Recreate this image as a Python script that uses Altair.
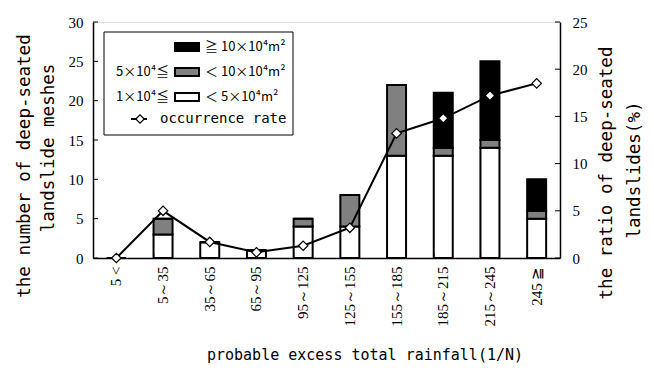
import altair as alt
import pandas as pd

categories = ["5 <", "5～35", "35～65", "65～95", "95～125", "125～155",
              "155～185", "185～215", "215～245", "245 ≧"]
small = [0, 3, 2, 1, 4, 4, 13, 13, 14, 5]      # 1x10^4 - 5x10^4 m2
medium = [0, 2, 0, 0, 1, 4, 9, 1, 1, 1]        # 5x10^4 - 10x10^4 m2
large = [0, 0, 0, 0, 0, 0, 0, 7, 10, 4]        # >= 10x10^4 m2
rate = [0.0, 5.0, 1.7, 0.6, 1.3, 3.2, 13.2, 14.8, 17.2, 18.5]
left_ticks = [0, 5, 10, 15, 20, 25, 30]
right_ticks = [0, 5, 10, 15, 20, 25]

W, H = 467, 236
LBL = "Liberation Sans Narrow"
MONO = "DejaVu Sans Mono"
JP = "Noto Sans CJK JP"

rows = []
for i, c in enumerate(categories):
    rows.append({"cat": c, "cls": "small", "ord": 0, "v": small[i]})
    rows.append({"cat": c, "cls": "medium", "ord": 1, "v": medium[i]})
    rows.append({"cat": c, "cls": "large", "ord": 2, "v": large[i]})
bars_df = pd.DataFrame(rows)
rate_df = pd.DataFrame({"cat": categories, "rate": rate})

xaxis = alt.Axis(labelAngle=-90, labelAlign="right", labelBaseline="middle",
                 labelFont=LBL, labelFontSize=15, labelColor="black",
                 labelPadding=8, ticks=False, domainColor="black", domainWidth=1.5)
xscale = alt.Scale(paddingInner=0.6, paddingOuter=0.3)
laxis = alt.Axis(values=left_ticks, grid=False, ticks=False,
                 labelFont=LBL, labelFontSize=15, labelColor="black",
                 labelPadding=10, domainColor="black", domainWidth=1.5)
raxis = alt.Axis(orient="right", values=right_ticks, grid=False, ticks=False,
                 labelFont=LBL, labelFontSize=15, labelColor="black",
                 labelPadding=12, domainColor="black", domainWidth=1.5)
lscale = alt.Scale(domain=[0, 30], nice=False)
rscale = alt.Scale(domain=[0, 25], nice=False)

bars = alt.Chart(bars_df).mark_bar(stroke="black", strokeWidth=2, size=19).encode(
    x=alt.X("cat:N", sort=categories, title=None, scale=xscale, axis=xaxis),
    y=alt.Y("v:Q", stack="zero", title=None, scale=lscale, axis=laxis),
    color=alt.Color("cls:N", legend=None,
                    scale=alt.Scale(domain=["small", "medium", "large"],
                                    range=["white", "#808080", "black"])),
    order=alt.Order("ord:Q"),
)

line = alt.Chart(rate_df).mark_line(color="black", strokeWidth=2).encode(
    x=alt.X("cat:N", sort=categories, title=None, scale=xscale, axis=xaxis),
    y=alt.Y("rate:Q", title=None, scale=rscale, axis=raxis))
pts = alt.Chart(rate_df).mark_point(shape="diamond", filled=True, fill="white",
                                    stroke="black", strokeWidth=1.2, size=90,
                                    opacity=1).encode(
    x=alt.X("cat:N", sort=categories, title=None, scale=xscale, axis=xaxis),
    y=alt.Y("rate:Q", title=None, scale=rscale, axis=raxis))

# inward ticks
lt = alt.Chart(pd.DataFrame({"v": left_ticks})).mark_rule(color="black", strokeWidth=1).encode(
    y=alt.Y("v:Q", title=None, scale=lscale, axis=laxis),
    x=alt.value(0), x2=alt.value(5))
rt = alt.Chart(pd.DataFrame({"rate": right_ticks})).mark_rule(color="black", strokeWidth=1).encode(
    y=alt.Y("rate:Q", title=None, scale=rscale, axis=raxis),
    x=alt.value(W - 5), x2=alt.value(W))
xt = alt.Chart(pd.DataFrame({"cat": categories[1:]})).mark_rule(color="black", strokeWidth=1).encode(
    x=alt.X("cat:N", sort=categories, bandPosition=0, title=None, scale=xscale, axis=xaxis),
    y=alt.value(H - 5), y2=alt.value(H))

def txt(s, x, y, size=15, font=MONO, angle=0, align="center"):
    return alt.Chart(pd.DataFrame({"s": [s]})).mark_text(
        font=font, fontSize=size, angle=angle, align=align, baseline="middle",
        color="black").encode(x=alt.value(x), y=alt.value(y), text="s:N")

titles = [
    txt("the number of deep-seated", -68, 144, size=17.5, angle=270),
    txt("landslide meshes", -44, 126, size=17.5, angle=270),
    txt("the ratio of deep-seated", 514, 151, size=17.5, angle=270),
    txt("landslides(%)", 542, 148, size=17.5, angle=270),
    txt("probable excess total rainfall(1/N)", 272, 333),
]

# legend (decoration)
box = alt.Chart(pd.DataFrame({"a": [0]})).mark_rect(fill="white", stroke="black",
                                                     strokeWidth=1).encode(
    x=alt.value(11), x2=alt.value(200), y=alt.value(10), y2=alt.value(113))

def swatch(color, yc):
    return alt.Chart(pd.DataFrame({"a": [0]})).mark_rect(
        fill=color, stroke="black", strokeWidth=2).encode(
        x=alt.value(82), x2=alt.value(106), y=alt.value(yc - 4), y2=alt.value(yc + 4))

leg = [
    box,
    swatch("black", 25), swatch("#808080", 50), swatch("white", 75),
    txt("≧ 10×10⁴m²", 112, 25, size=13, font=JP, align="left"),
    txt("5×10⁴≦", 76, 50, size=13, font=JP, align="right"),
    txt("＜ 10×10⁴m²", 112, 50, size=13, font=JP, align="left"),
    txt("1×10⁴≦", 76, 75, size=13, font=JP, align="right"),
    txt("＜  5×10⁴m²", 112, 75, size=13, font=JP, align="left"),
    alt.Chart(pd.DataFrame({"a": [0]})).mark_rule(color="black", strokeWidth=2).encode(
        x=alt.value(38), x2=alt.value(54), y=alt.value(97)),
    alt.Chart(pd.DataFrame({"a": [0]})).mark_point(
        shape="diamond", filled=True, fill="white", stroke="black", strokeWidth=1.2,
        size=70, opacity=1).encode(x=alt.value(47), y=alt.value(97)),
    txt("occurrence rate", 67, 97, size=14, align="left"),
]

left = alt.layer(bars, lt, xt)
right = alt.layer(line, pts, rt)
chart = alt.layer(left, right, *titles, *leg).resolve_scale(y="independent").properties(
    width=W, height=H,
    autosize=alt.AutoSizeParams(type="none"),
    padding={"left": 85, "top": 14, "right": 86, "bottom": 110},
).configure_view(stroke="#999999", strokeWidth=1).configure(background="white")

chart.save("out.html", embed_options={"renderer": "svg", "actions": False})
